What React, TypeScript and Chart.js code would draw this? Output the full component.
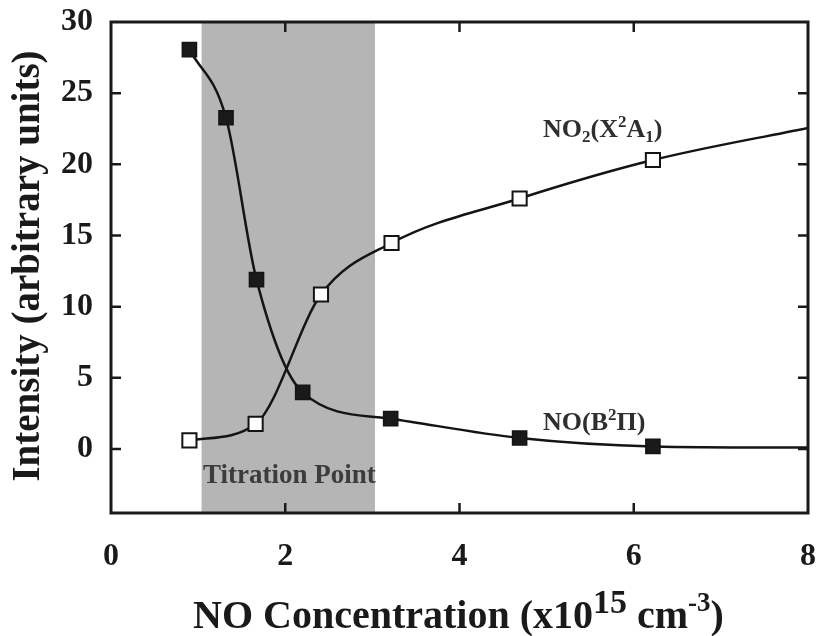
import React, { useEffect, useRef } from 'react';
import { Chart, registerables } from 'chart.js';

Chart.register(...registerables);

// NO(B²Π) emission (filled squares); last entry is where the fitted curve ends (no marker)
const noX = [0.9, 1.32, 1.67, 2.2, 3.21, 4.69, 6.22, 8.0];
const noY = [28.06, 23.27, 11.9, 3.98, 2.13, 0.77, 0.18, 0.1];
const noMarker = [true, true, true, true, true, true, true, false];

// NO2(X²A1) (open squares); last entry is where the fitted curve ends (no marker)
const no2X = [0.9, 1.66, 2.41, 3.22, 4.69, 6.22, 8.0];
const no2Y = [0.6, 1.76, 10.85, 14.47, 17.6, 20.3, 22.56];
const no2Marker = [true, true, true, true, true, true, false];

const xTicks = [0, 2, 4, 6, 8];
const yTicks = [0, 5, 10, 15, 20, 25, 30];
const xInnerTicks = [2, 4, 6];
const yInnerTicks = [0, 5, 10, 15, 20, 25];
const titrationRange = [1.04, 3.03];

const FONT = '"Liberation Serif", "Times New Roman", "DejaVu Serif", serif';

type Piece = { t: string; size: number; dy: number };

function drawPieces(ctx: CanvasRenderingContext2D, pieces: Piece[], x: number, y: number, color: string) {
  ctx.save();
  ctx.fillStyle = color;
  ctx.textBaseline = 'alphabetic';
  ctx.textAlign = 'left';
  let cx = x;
  for (const p of pieces) {
    ctx.font = `bold ${p.size}px ${FONT}`;
    ctx.fillText(p.t, cx, y + p.dy);
    cx += ctx.measureText(p.t).width;
  }
  ctx.restore();
}

const decor = {
  id: 'decor',
  beforeDatasetsDraw(chart: any) {
    const { ctx, chartArea: a, scales } = chart;
    const x = scales.x;
    ctx.save();
    const x0 = x.getPixelForValue(titrationRange[0]);
    const x1 = x.getPixelForValue(titrationRange[1]);
    ctx.fillStyle = '#b5b5b5';
    ctx.fillRect(x0, a.top, x1 - x0, a.bottom - a.top);
    ctx.restore();
    drawPieces(ctx, [{ t: 'Titration Point', size: 27, dy: 0 }], 203, 483, '#3c3c3c');
  },
  afterDraw(chart: any) {
    const { ctx, chartArea: a, scales } = chart;
    const x = scales.x;
    const y = scales.y;
    ctx.save();
    ctx.strokeStyle = '#1a1a1a';
    ctx.lineWidth = 2.5;
    const tl = 10;
    ctx.beginPath();
    for (const v of xInnerTicks) {
      const px = x.getPixelForValue(v);
      ctx.moveTo(px, a.bottom);
      ctx.lineTo(px, a.bottom - tl);
      ctx.moveTo(px, a.top);
      ctx.lineTo(px, a.top + tl);
    }
    for (const v of yInnerTicks) {
      const py = y.getPixelForValue(v);
      ctx.moveTo(a.left, py);
      ctx.lineTo(a.left + tl, py);
      ctx.moveTo(a.right, py);
      ctx.lineTo(a.right - tl, py);
    }
    ctx.stroke();
    ctx.lineWidth = 3;
    ctx.strokeRect(a.left, a.top, a.right - a.left, a.bottom - a.top);
    ctx.restore();

    // series labels
    drawPieces(
      ctx,
      [
        { t: 'NO', size: 26, dy: 0 },
        { t: '2', size: 17, dy: 5 },
        { t: '(X', size: 26, dy: 0 },
        { t: '2', size: 17, dy: -10 },
        { t: 'A', size: 26, dy: 0 },
        { t: '1', size: 17, dy: 5 },
        { t: ')', size: 26, dy: 0 },
      ],
      543,
      137,
      '#2e2e2e'
    );
    drawPieces(
      ctx,
      [
        { t: 'NO(B', size: 26, dy: 0 },
        { t: '2', size: 17, dy: -10 },
        { t: 'Π)', size: 26, dy: 0 },
      ],
      543,
      430,
      '#2e2e2e'
    );

    // x title
    drawPieces(
      ctx,
      [
        { t: 'NO Concentration (x10', size: 40, dy: 0 },
        { t: '15', size: 34, dy: -15 },
        { t: ' cm', size: 40, dy: 0 },
        { t: '-3', size: 27, dy: -17 },
        { t: ')', size: 40, dy: 0 },
      ],
      193,
      628,
      '#1a1a1a'
    );

    // y title
    ctx.save();
    ctx.translate(39, 266);
    ctx.rotate(-Math.PI / 2);
    ctx.font = `bold 39px ${FONT}`;
    ctx.fillStyle = '#1a1a1a';
    ctx.textAlign = 'center';
    ctx.textBaseline = 'alphabetic';
    ctx.fillText('Intensity (arbitrary units)', 0, 0);
    ctx.restore();
  },
};

export default function App() {
  const ref = useRef<HTMLCanvasElement | null>(null);
  useEffect(() => {
    document.body.style.margin = '0';
    document.body.style.overflow = 'hidden';
    if (!ref.current) return;
    const tickFont = { family: FONT, size: 32, weight: 'bold' as const };
    const chart = new Chart(ref.current, {
      type: 'line',
      data: {
        datasets: [
          {
            label: 'NO(B2Π)',
            data: noX.map((v, i) => ({ x: v, y: noY[i] })),
            borderColor: '#141414',
            borderWidth: 2.5,
            cubicInterpolationMode: 'monotone',
            pointStyle: 'rect',
            pointRadius: noMarker.map((m) => (m ? 10 : 0)),
            pointBackgroundColor: '#1a1a1a',
            pointBorderColor: '#141414',
            pointBorderWidth: 1.5,
            fill: false,
          },
          {
            label: 'NO2(X2A1)',
            data: no2X.map((v, i) => ({ x: v, y: no2Y[i] })),
            borderColor: '#141414',
            borderWidth: 2.5,
            cubicInterpolationMode: 'monotone',
            pointStyle: 'rect',
            pointRadius: no2Marker.map((m) => (m ? 10 : 0)),
            pointBackgroundColor: '#ffffff',
            pointBorderColor: '#141414',
            pointBorderWidth: 2,
            fill: false,
          },
        ],
      },
      options: {
        animation: false,
        responsive: false,
        maintainAspectRatio: false,
        layout: { padding: { top: 22, right: 10, left: 0, bottom: 0 } },
        plugins: { legend: { display: false }, tooltip: { enabled: false } },
        scales: {
          x: {
            type: 'linear',
            min: 0,
            max: 8,
            grid: { display: false, drawTicks: false },
            border: { display: false },
            afterBuildTicks: (s: any) => {
              s.ticks = xTicks.map((v) => ({ value: v }));
            },
            afterFit: (s: any) => {
              s.height = 123;
              s.paddingLeft = 0;
              s.paddingRight = 0;
            },
            ticks: { font: tickFont, color: '#1a1a1a', padding: 25, maxRotation: 0, autoSkip: false },
          },
          y: {
            type: 'linear',
            min: -4.5,
            max: 30,
            grid: { display: false, drawTicks: false },
            border: { display: false },
            afterBuildTicks: (s: any) => {
              s.ticks = yTicks.map((v) => ({ value: v }));
            },
            afterFit: (s: any) => {
              s.width = 111;
              s.paddingTop = 0;
              s.paddingBottom = 0;
            },
            ticks: { font: tickFont, color: '#1a1a1a', padding: 18, autoSkip: false },
          },
        },
      },
      plugins: [decor],
    });
    return () => chart.destroy();
  }, []);
  return <canvas ref={ref} width={820} height={636} style={{ display: 'block', width: 820, height: 636 }} />;
}
